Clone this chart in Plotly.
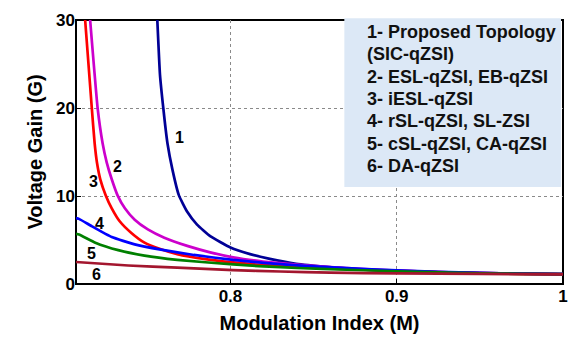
import plotly.graph_objects as go

# Voltage gain G versus modulation index M for six quasi-Z-source inverter topologies
m_1 = [0.756, 0.7576, 0.7596, 0.7621, 0.7651, 0.769, 0.774, 0.7799, 0.7878, 0.800,
       0.8118, 0.8237, 0.8395, 0.8592, 0.8787, 0.900, 0.925, 0.950, 0.975, 1.0]
g_1 = [30.0, 23.8, 20.0, 16.0, 13.0, 10.07, 8.2, 6.74, 5.44, 4.15,
       3.4, 2.85, 2.3, 1.93, 1.65, 1.47, 1.33, 1.24, 1.17, 1.12]

m_2 = [0.7156, 0.7201, 0.7231, 0.7256, 0.7286, 0.7321, 0.7365, 0.7424, 0.7503, 0.7602,
       0.774, 0.7878, 0.8016, 0.8195, 0.8395, 0.860, 0.880, 0.900, 0.925, 0.950, 0.975, 1.0]
g_2 = [30.0, 20.0, 16.0, 13.8, 11.9, 10.07, 8.6, 7.3, 6.2, 5.26,
       4.33, 3.6, 3.03, 2.55, 2.2, 1.92, 1.7, 1.52, 1.36, 1.25, 1.17, 1.12]

m_3 = [0.7126, 0.7166, 0.7183, 0.7197, 0.7217, 0.725, 0.7286, 0.7335, 0.7404, 0.7483,
       0.7582, 0.768, 0.7838, 0.800, 0.820, 0.840, 0.870, 0.900, 0.925, 0.950, 0.975, 1.0]
g_3 = [30.0, 20.0, 16.0, 13.8, 11.9, 10.07, 8.6, 7.1, 5.8, 4.7,
       3.96, 3.4, 2.85, 2.48, 2.15, 1.93, 1.68, 1.5, 1.35, 1.24, 1.16, 1.12]

m_4 = [0.7071, 0.7089, 0.7167, 0.7286, 0.7424, 0.7582, 0.778, 0.8016, 0.820, 0.840,
       0.870, 0.900, 0.925, 0.950, 0.975, 1.0]
g_4 = [7.5, 7.4, 6.55, 5.33, 4.5, 3.9, 3.3, 2.74, 2.4, 2.12,
       1.8, 1.55, 1.38, 1.26, 1.17, 1.12]

m_5 = [0.7071, 0.7089, 0.7187, 0.7325, 0.7483, 0.768, 0.8016, 0.820, 0.840, 0.870,
       0.900, 0.925, 0.950, 0.975, 1.0]
g_5 = [5.7, 5.63, 4.7, 3.85, 3.22, 2.74, 2.22, 2.0, 1.82, 1.62,
       1.45, 1.32, 1.22, 1.16, 1.12]

m_6 = [0.7071, 0.7385, 0.768, 0.8016, 0.830, 0.860, 0.900, 0.950, 1.0]
g_6 = [2.5, 2.1, 1.85, 1.58, 1.42, 1.3, 1.2, 1.14, 1.1]

series = [
    ("1", m_1, g_1, "#000096"),
    ("2", m_2, g_2, "#cc00cc"),
    ("3", m_3, g_3, "#ff0000"),
    ("4", m_4, g_4, "#0000ff"),
    ("5", m_5, g_5, "#008000"),
    ("6", m_6, g_6, "#a3162e"),
]

# curve number labels (M, G)
label_pos = {
    "1": (0.7692, 16.6),
    "2": (0.7320, 13.4),
    "3": (0.7176, 11.7),
    "4": (0.7215, 6.9),
    "5": (0.7162, 3.5),
    "6": (0.7195, 1.1),
}

legend_lines = [
    "1- Proposed Topology",
    "(SIC-qZSI)",
    "2- ESL-qZSI, EB-qZSI",
    "3- iESL-qZSI",
    "4- rSL-qZSI, SL-ZSI",
    "5- cSL-qZSI, CA-qZSI",
    "6- DA-qZSI",
]

x_ticks = [0.8, 0.9, 1.0]
x_tick_text = ["0.8", "0.9", "1"]
y_ticks = [0, 10, 20, 30]

FONT = "Arial"
PLOT_H = 270  # plot-area height in px

fig = go.Figure()
for name, m, g, color in series:
    fig.add_trace(go.Scatter(x=m, y=g, mode="lines", name=name,
                             line=dict(color=color, width=2.7, shape="spline", smoothing=0.4),
                             showlegend=False))

annotations = []
for name, (xm, yg) in label_pos.items():
    annotations.append(dict(x=xm, y=yg, xref="x", yref="y", text="<b>%s</b>" % name,
                            showarrow=False, font=dict(family=FONT, size=16, color="black")))

# text of the key box, one line per annotation
for i, line in enumerate(legend_lines):
    annotations.append(dict(x=0.5939, y=(PLOT_H - (12 + 22.9 * i)) / PLOT_H,
                            xref="paper", yref="paper",
                            xanchor="left", yanchor="middle", text="<b>%s</b>" % line,
                            showarrow=False, font=dict(family=FONT, size=18, color="#111111")))

shapes = [
    # plot frame
    dict(type="rect", xref="paper", yref="paper", x0=0, x1=1, y0=0, y1=1,
         line=dict(color="black", width=2), fillcolor="rgba(0,0,0,0)", layer="between"),
    # key box
    dict(type="rect", xref="paper", yref="paper", x0=0.551, x1=0.996,
         y0=0.367, y1=1.007, fillcolor="#dce8f6", line=dict(width=0), layer="above"),
]

fig.update_layout(
    width=579, height=350,
    margin=dict(l=76, r=11, t=14, b=66),
    paper_bgcolor="white", plot_bgcolor="white",
    font=dict(family=FONT, size=17, color="black"),
    annotations=annotations,
    shapes=shapes,
)
fig.update_xaxes(
    range=[0.7071, 1.0], tickvals=x_ticks, ticktext=x_tick_text,
    showgrid=True, gridcolor="#8a8a8a", griddash="dot", gridwidth=1,
    showline=False,
    ticks="inside", ticklen=5, tickcolor="black", tickwidth=1,
    tickfont=dict(family=FONT, size=17, weight="bold"),
    title=dict(text="<b>Modulation Index (M)</b>", font=dict(family=FONT, size=20), standoff=10),
    zeroline=False,
)
fig.update_yaxes(
    range=[0, 30], tickvals=y_ticks,
    showgrid=True, gridcolor="#8a8a8a", griddash="dot", gridwidth=1,
    showline=False,
    ticks="inside", ticklen=5, tickcolor="black", tickwidth=1,
    tickfont=dict(family=FONT, size=17, weight="bold"),
    title=dict(text="<b>Voltage Gain (G)</b>", font=dict(family=FONT, size=20), standoff=8),
    zeroline=False,
)

fig.write_html("out.html")
